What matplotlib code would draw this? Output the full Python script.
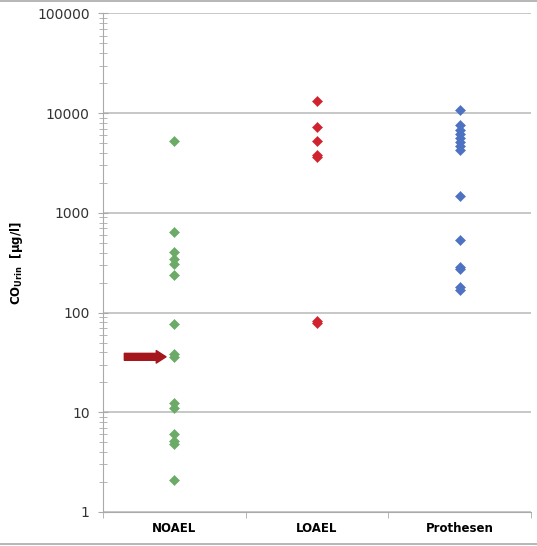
import matplotlib.pyplot as plt
from matplotlib.lines import Line2D

# Werte (µg/l)
kategorien = ["NOAEL", "LOAEL", "Prothesen"]
noael = [2.1, 4.8, 5.2, 6.0, 11, 12.5, 36, 38, 77, 240, 310, 345, 405, 640, 5300]
loael = [79, 83, 3650, 3850, 5300, 7200, 13100]
prothesen = [170, 180, 275, 285, 540, 1470, 4300, 4700, 5100, 5600, 6200, 6800, 7600, 10700]
farben = ["#6BAA67", "#D1232D", "#4E72C2"]
pfeil_wert = 36

fig = plt.figure(figsize=(5.37, 5.46), dpi=100)
ax = fig.add_axes([0.1918, 0.0623, 0.797, 0.913])

for i, werte in enumerate([noael, loael, prothesen]):
    ax.plot([i + 1] * len(werte), werte, "D", color=farben[i], ms=5.2,
            markeredgewidth=0.4, markeredgecolor=farben[i], zorder=3)

ax.set_yscale("log")
ax.set_ylim(1, 100000)
ax.set_xlim(0.5, 3.5)
ax.set_yticks([1, 10, 100, 1000, 10000, 100000])
ax.set_yticklabels(["1", "10", "100", "1000", "10000", "100000"])
ax.yaxis.grid(True, which="major", color="#BDBDBD", lw=1.2)
ax.set_axisbelow(True)

ax.set_xticks([1, 2, 3])
ax.set_xticklabels(kategorien, fontweight="bold", fontsize=8.5)
ax.set_xticks([0.5, 1.5, 2.5, 3.5], minor=True)
ax.tick_params(axis="x", which="major", length=0, pad=7)
ax.tick_params(axis="x", which="minor", length=4, color="#AAAAAA", direction="out")
ax.tick_params(axis="y", which="major", length=7, direction="inout",
               color="#AAAAAA", labelsize=10, labelcolor="#333333", pad=6)
ax.tick_params(axis="y", which="minor", length=6, direction="inout", color="#AAAAAA")

for s in ["top", "right"]:
    ax.spines[s].set_visible(False)
ax.spines["left"].set_color("#AAAAAA")
ax.spines["bottom"].set_color("#AAAAAA")

ax.set_ylabel(r"CO$_{\mathbf{Urin}}$  [µg/l]", fontweight="bold", fontsize=8.5, labelpad=9)

ax.annotate("", xy=(1, pfeil_wert), xycoords="data",
            xytext=(-36, 0), textcoords="offset points",
            arrowprops=dict(arrowstyle="simple,head_length=0.7,head_width=0.9,tail_width=0.5",
                            color="#A5161C", shrinkA=0, shrinkB=6))

fig.add_artist(Line2D([0, 1], [0.998, 0.998], color="#AAAAAA", lw=1.2))
fig.add_artist(Line2D([0, 1], [0.004, 0.004], color="#AAAAAA", lw=1.2))

fig.savefig("out.png", dpi=100)
